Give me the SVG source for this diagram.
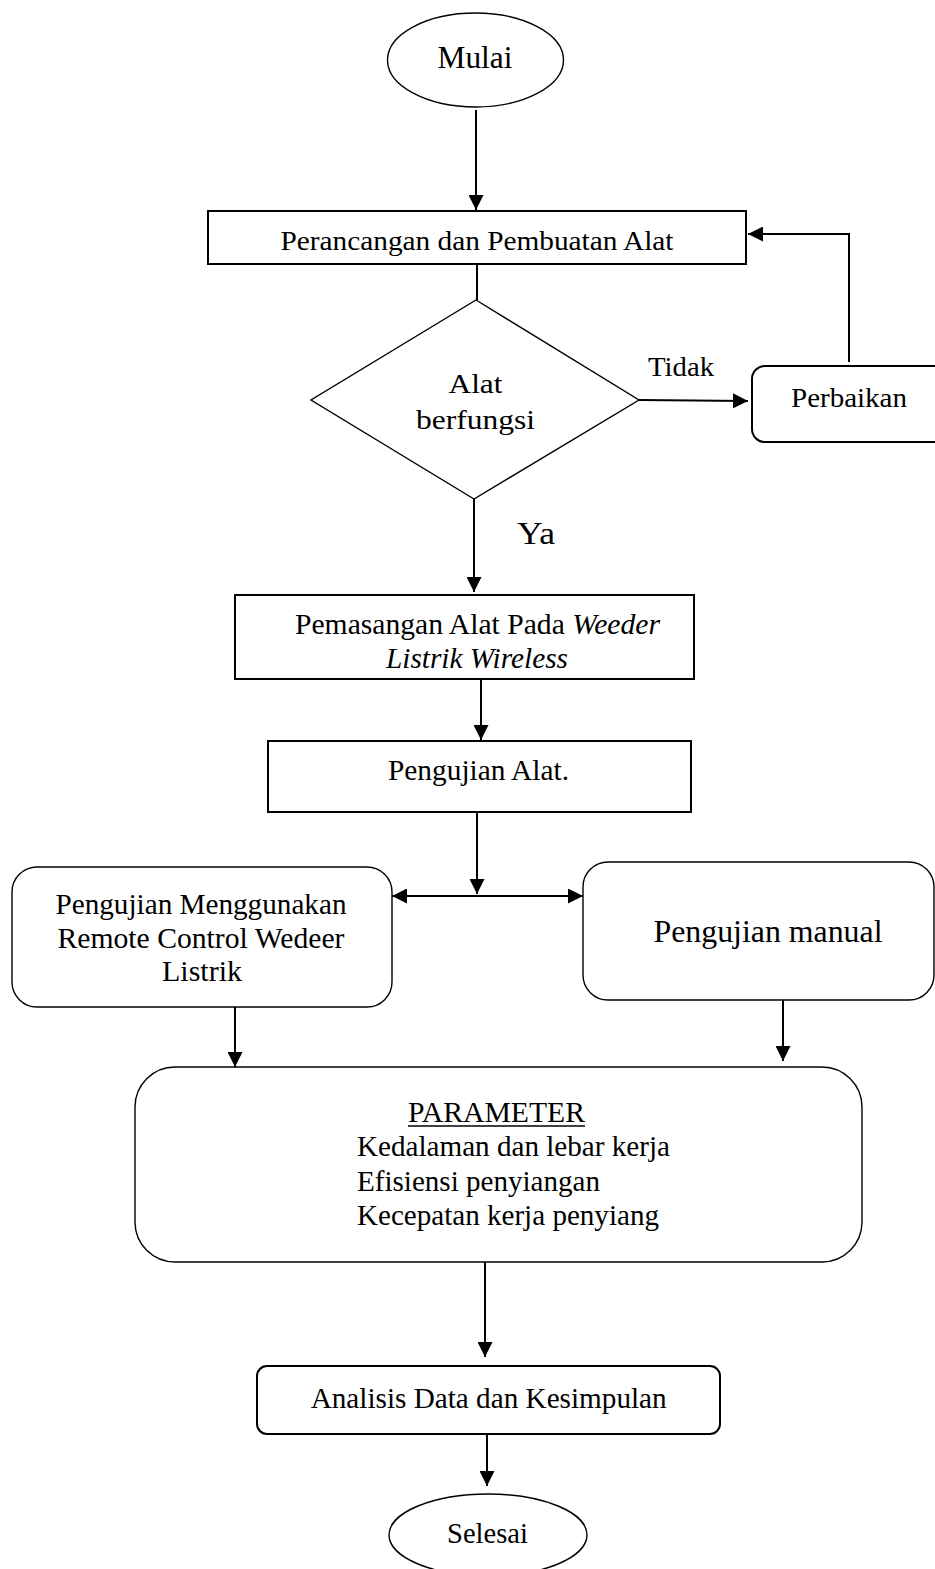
<svg xmlns="http://www.w3.org/2000/svg" width="935" height="1569" viewBox="0 0 935 1569">
<defs>
<style>
.t{font-family:"Liberation Serif","Times New Roman",serif;fill:#000;text-anchor:middle}
.s{fill:#fff;stroke:#000;stroke-width:1.4}
.b{fill:#fff;stroke:#000;stroke-width:2}
.c{fill:none;stroke:#000;stroke-width:2}
</style>
<marker id="ah" markerUnits="userSpaceOnUse" markerWidth="16" markerHeight="15" refX="15" refY="7.5" orient="auto-start-reverse">
<path d="M0,0 L15,7.5 L0,15 Z" fill="#000"/>
</marker>
</defs>
<rect width="935" height="1569" fill="#fff"/>

<g id="connectors">
<line class="c" x1="476" y1="110" x2="476" y2="210" marker-end="url(#ah)"/>
<line class="c" x1="477" y1="264" x2="477" y2="300"/>
<line class="c" x1="639" y1="400" x2="748" y2="401" marker-end="url(#ah)"/>
<polyline class="c" points="849,362 849,234 748,234" marker-end="url(#ah)"/>
<line class="c" x1="474" y1="499" x2="474" y2="592" marker-end="url(#ah)"/>
<line class="c" x1="481" y1="679" x2="481" y2="740" marker-end="url(#ah)"/>
<line class="c" x1="477" y1="812" x2="477" y2="894" marker-end="url(#ah)"/>
<line class="c" x1="392" y1="896" x2="583" y2="896" marker-start="url(#ah)" marker-end="url(#ah)"/>
<line class="c" x1="235" y1="1006" x2="235" y2="1067" marker-end="url(#ah)"/>
<line class="c" x1="783" y1="1000" x2="783" y2="1061" marker-end="url(#ah)"/>
<line class="c" x1="485" y1="1262" x2="485" y2="1357" marker-end="url(#ah)"/>
<line class="c" x1="487" y1="1434" x2="487" y2="1486" marker-end="url(#ah)"/>
<text class="t" x="681" y="376" font-size="28" textLength="66" lengthAdjust="spacingAndGlyphs">Tidak</text>
<text class="t" x="536" y="544" font-size="32" textLength="38" lengthAdjust="spacingAndGlyphs">Ya</text>
</g>

<g id="mulai">
<ellipse class="s" cx="475.5" cy="60" rx="88" ry="47"/>
<text class="t" x="475" y="68" font-size="31" textLength="75" lengthAdjust="spacingAndGlyphs">Mulai</text>
</g>

<g id="perancangan">
<rect class="b" x="208" y="211" width="538" height="53"/>
<text class="t" x="477" y="250" font-size="28" textLength="393" lengthAdjust="spacingAndGlyphs">Perancangan dan Pembuatan Alat</text>
</g>

<g id="alat-berfungsi">
<polygon class="s" points="476,300 639,400 474,499 311,400" stroke-width="1.2"/>
<text class="t" x="475.5" y="393" font-size="28" textLength="54" lengthAdjust="spacingAndGlyphs">Alat</text>
<text class="t" x="475.5" y="429" font-size="28" textLength="119" lengthAdjust="spacingAndGlyphs">berfungsi</text>
</g>

<g id="perbaikan">
<rect class="b" x="752" y="366" width="200" height="76" rx="13"/>
<text class="t" x="849" y="407" font-size="28" textLength="116" lengthAdjust="spacingAndGlyphs">Perbaikan</text>
</g>

<g id="pemasangan">
<rect class="b" x="235" y="595" width="459" height="84"/>
<text class="t" x="477.5" y="634" font-size="29" textLength="365" lengthAdjust="spacingAndGlyphs">Pemasangan Alat Pada <tspan font-style="italic">Weeder</tspan></text>
<text class="t" x="477" y="668" font-size="29" font-style="italic" textLength="182" lengthAdjust="spacingAndGlyphs">Listrik Wireless</text>
</g>

<g id="pengujian-alat">
<rect class="b" x="268" y="741" width="423" height="71"/>
<text class="t" x="478.5" y="780" font-size="29" textLength="181" lengthAdjust="spacingAndGlyphs">Pengujian Alat.</text>
</g>

<g id="pengujian-remote">
<rect class="s" x="12" y="867" width="380" height="140" rx="25"/>
<text class="t" x="201" y="914" font-size="29" textLength="291" lengthAdjust="spacingAndGlyphs">Pengujian Menggunakan</text>
<text class="t" x="201" y="948" font-size="29" textLength="287" lengthAdjust="spacingAndGlyphs">Remote Control Wedeer</text>
<text class="t" x="202" y="981" font-size="29" textLength="80" lengthAdjust="spacingAndGlyphs">Listrik</text>
</g>

<g id="pengujian-manual">
<rect class="s" x="583" y="862" width="351" height="138" rx="25"/>
<text class="t" x="768" y="942" font-size="31" textLength="229" lengthAdjust="spacingAndGlyphs">Pengujian manual</text>
</g>

<g id="parameter">
<rect class="s" x="135" y="1067" width="727" height="195" rx="40"/>
<text class="t" x="496.5" y="1122" font-size="29" textLength="177" lengthAdjust="spacingAndGlyphs">PARAMETER</text>
<line x1="408" y1="1126" x2="585" y2="1126" stroke="#000" stroke-width="1.5"/>
<text class="t" x="357" y="1156" font-size="29" style="text-anchor:start" textLength="313" lengthAdjust="spacingAndGlyphs">Kedalaman dan lebar kerja</text>
<text class="t" x="357" y="1191" font-size="29" style="text-anchor:start" textLength="243" lengthAdjust="spacingAndGlyphs">Efisiensi penyiangan</text>
<text class="t" x="357" y="1225" font-size="29" style="text-anchor:start" textLength="302" lengthAdjust="spacingAndGlyphs">Kecepatan kerja penyiang</text>
</g>

<g id="analisis">
<rect class="b" x="257" y="1366" width="463" height="68" rx="10"/>
<text class="t" x="488.7" y="1408" font-size="29" textLength="356" lengthAdjust="spacingAndGlyphs">Analisis Data dan Kesimpulan</text>
</g>

<g id="selesai">
<ellipse class="s" cx="488" cy="1535" rx="99" ry="41"/>
<text class="t" x="487.5" y="1543" font-size="28.5" textLength="81" lengthAdjust="spacingAndGlyphs">Selesai</text>
</g>
</svg>
